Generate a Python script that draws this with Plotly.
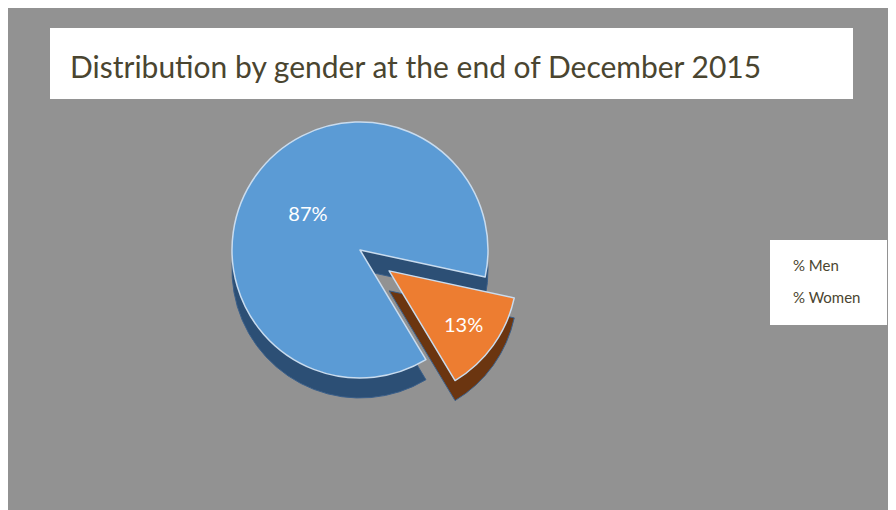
import plotly.graph_objects as go

labels = ["% Men", "% Women"]
values = [87, 13]
colors_top = ["#5b9bd5", "#ed7d31"]
colors_side = ["#2c4f75", "#6b3510"]
title_text = "Distribution by gender at the end of December 2015"

# page body has an 8px margin; figure fills the rest of the 896x510 window
W, H = 888, 502
OFF = 8
def px_x(x): return (x - OFF) / W
def px_y(y): return 1 - (y - OFF) / H

CX, CY, R, PULL, DEPTH = 360, 250, 128, 0.28, 20
half = R * (1 + PULL)

fig = go.Figure()

# side (depth) layer, shifted down
fig.add_trace(go.Pie(
    labels=labels, values=values, sort=False, direction="clockwise", rotation=149,
    pull=[0, PULL], marker=dict(colors=colors_side, line=dict(color="#3a5f8a", width=1)),
    textinfo="none", hoverinfo="skip", showlegend=False,
    domain=dict(x=[px_x(CX - half), px_x(CX + half)], y=[px_y(CY + DEPTH + half), px_y(CY + DEPTH - half)]),
))
# top layer
fig.add_trace(go.Pie(
    labels=labels, values=values, sort=False, direction="clockwise", rotation=149,
    pull=[0, PULL], marker=dict(colors=colors_top, line=dict(color="#c9dcef", width=1.5)),
    texttemplate="%{percent:.0%}", textposition="inside", insidetextorientation="horizontal",
    textfont=dict(color="white", size=20, family="Lato"),
    showlegend=False,
    domain=dict(x=[px_x(CX - half), px_x(CX + half)], y=[px_y(CY + half), px_y(CY - half)]),
))

shapes = [
    dict(type="rect", xref="paper", yref="paper", x0=px_x(50), x1=px_x(853), y0=px_y(99), y1=px_y(28),
         fillcolor="white", line=dict(width=0), layer="below"),
    dict(type="rect", xref="paper", yref="paper", x0=px_x(770), x1=px_x(887), y0=px_y(325), y1=px_y(240),
         fillcolor="white", line=dict(width=0), layer="below"),
]

annotations = [
    dict(text=title_text, xref="paper", yref="paper", x=px_x(68), y=px_y(66), xanchor="left", yanchor="middle",
         showarrow=False, font=dict(family="Lato", size=30, color="#4a4530")),
]
for i, lab in enumerate(labels):
    annotations.append(dict(text=lab, xref="paper", yref="paper", x=px_x(791), y=px_y(265 + 32 * i),
                            xanchor="left", yanchor="middle", showarrow=False,
                            font=dict(family="Lato", size=15, color="#4a4530")))

fig.update_layout(
    width=W, height=H, margin=dict(l=0, r=0, t=0, b=0),
    paper_bgcolor="#929292", plot_bgcolor="#929292",
    shapes=shapes, annotations=annotations, showlegend=False,
)

fig.write_html("out.html")
